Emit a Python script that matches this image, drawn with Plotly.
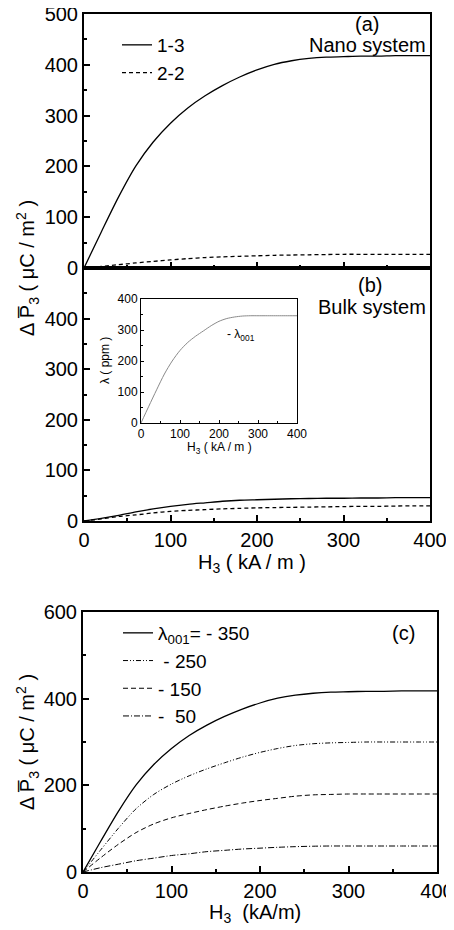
import plotly.graph_objects as go

# ---------------- data ----------------
H = [0, 20, 40, 60, 80, 100, 120, 140, 160, 180, 200, 220, 240, 260, 280, 300, 320, 340, 360, 380, 400]

# (a) nano system
nano_13 = [0, 71, 140, 201, 248, 285, 315, 339, 359, 376, 390, 401, 408, 412.5, 415, 416, 417, 417, 418, 418, 418]
nano_22 = [0, 3, 6.5, 10, 13, 16, 18.5, 20.5, 22, 23, 24, 25, 25.5, 26, 26.5, 27, 27, 27, 27, 27, 27]

# (b) bulk system
bulk_13 = [0, 5, 11, 18, 24, 29, 33, 36, 39, 41, 42, 43, 44, 44.5, 45, 45, 45.5, 45.5, 46, 46, 46]
bulk_22 = [0, 4, 9, 12, 16, 19, 21, 22.5, 24, 25, 26, 26.5, 27, 27.5, 28, 28.5, 29, 29, 29.5, 30, 30]

# inset: -lambda_001 (ppm)
lam001 = [0, 54, 107, 158, 200, 234, 260, 280, 297, 314, 328, 337, 342, 345, 346, 346, 346, 346, 346, 346, 346]

# (c) lambda_001 series
c_350 = [0, 71, 140, 201, 248, 285, 315, 339, 359, 376, 390, 401, 408, 412.5, 415, 416, 417, 417, 418, 418, 418]
c_250 = [0, 51, 101, 146, 179, 203, 222, 238, 252, 265, 276, 285, 292, 296, 298, 299, 300, 300, 300, 300, 300]
c_150 = [0, 33, 64, 91, 111, 125, 135, 144, 152, 159, 165, 170, 175, 178, 179, 180, 180, 180, 180, 180, 180]
c_50 = [0, 10, 18, 26, 32, 38, 42, 47, 50, 53, 55, 57, 58.5, 59.5, 60, 60, 60, 60, 60, 60, 60]

main_ticks = [0, 100, 200, 300, 400]
ab_yticks = [0, 100, 200, 300, 400, 500]
b_yticks = [0, 100, 200, 300, 400]
c_yticks = [0, 200, 400, 600]

# page is 454x930, the plot div sits 8px in from the page corner (body margin)
OFF = 8
W, Hgt = 454 - OFF, 930 - OFF
FONT = "Liberation Sans, Arial, sans-serif"


def px_x(p):
    return (p - OFF) / W


def px_y(p):
    return 1 - (p - OFF) / Hgt


fig = go.Figure()

LW = 1.3
SM = 0.8
# (a)
fig.add_trace(go.Scatter(x=H, y=nano_13, mode="lines", name="1-3",
                         line=dict(color="black", width=LW, shape="spline", smoothing=SM),
                         xaxis="x", yaxis="y", legend="legend"))
fig.add_trace(go.Scatter(x=H, y=nano_22, mode="lines", name="2-2",
                         line=dict(color="black", width=LW, dash="4px,3px", shape="spline", smoothing=SM),
                         xaxis="x", yaxis="y", legend="legend"))
# (b)
fig.add_trace(go.Scatter(x=H, y=bulk_13, mode="lines", showlegend=False,
                         line=dict(color="black", width=LW, shape="spline", smoothing=SM),
                         xaxis="x2", yaxis="y2"))
fig.add_trace(go.Scatter(x=H, y=bulk_22, mode="lines", showlegend=False,
                         line=dict(color="black", width=LW, dash="4px,3px", shape="spline", smoothing=SM),
                         xaxis="x2", yaxis="y2"))
# inset
fig.add_trace(go.Scatter(x=H, y=lam001, mode="lines", showlegend=False,
                         line=dict(color="#8a8a8a", width=1, shape="spline", smoothing=SM),
                         xaxis="x3", yaxis="y3"))
# (c)
fig.add_trace(go.Scatter(x=H, y=c_350, mode="lines", name="λ<sub>001</sub>= - 350",
                         line=dict(color="black", width=LW, shape="spline", smoothing=SM),
                         xaxis="x4", yaxis="y4", legend="legend2"))
fig.add_trace(go.Scatter(x=H, y=c_250, mode="lines", name="\u00a0- 250",
                         line=dict(color="black", width=1, dash="5px,2px,1px,2px,1px,2px", shape="spline", smoothing=SM),
                         xaxis="x4", yaxis="y4", legend="legend2"))
fig.add_trace(go.Scatter(x=H, y=c_150, mode="lines", name="- 150",
                         line=dict(color="black", width=1, dash="5px,3px", shape="spline", smoothing=SM),
                         xaxis="x4", yaxis="y4", legend="legend2"))
fig.add_trace(go.Scatter(x=H, y=c_50, mode="lines", name="-\u00a0\u00a050",
                         line=dict(color="black", width=1, dash="6px,2px,1px,2px", shape="spline", smoothing=SM),
                         xaxis="x4", yaxis="y4", legend="legend2"))

tickfont = dict(family=FONT, size=20, color="black")
small_font = dict(family=FONT, size=12, color="black")


def main_axis(**kw):
    d = dict(showline=True, linecolor="black", linewidth=2, mirror=True, ticks="inside", ticklen=6,
             tickwidth=1.5, tickcolor="black", showgrid=False, zeroline=False, tickfont=tickfont,
             automargin=False, ticklabeloverflow="allow",
             minor=dict(ticks="inside", ticklen=3, tickwidth=1.5, tickcolor="black", showgrid=False))
    d.update(kw)
    return d


def inset_axis(**kw):
    d = dict(showline=True, linecolor="black", linewidth=1, mirror=True, ticks="inside", ticklen=3,
             tickcolor="black", showgrid=False, zeroline=False, tickfont=small_font, automargin=False,
             ticklabeloverflow="allow",
             minor=dict(ticks="inside", ticklen=2, tickcolor="black", dtick=50))
    d.update(kw)
    return d


dom_ab_x = [px_x(84), px_x(430)]
fig.update_layout(
    width=W, height=Hgt, margin=dict(l=0, r=0, t=0, b=0, autoexpand=False),
    paper_bgcolor="white", plot_bgcolor="rgba(0,0,0,0)",
    font=dict(family=FONT, color="black"),
    xaxis=main_axis(domain=dom_ab_x, anchor="y", range=[0, 400], tickvals=main_ticks, showticklabels=False,
                    minor_dtick=50),
    yaxis=main_axis(domain=[px_y(268), px_y(14)], anchor="x", range=[0, 500], tickvals=ab_yticks,
                    minor_dtick=50),
    xaxis2=main_axis(domain=dom_ab_x, anchor="y2", range=[0, 400], tickvals=main_ticks, minor_dtick=50),
    yaxis2=main_axis(domain=[px_y(521), px_y(268)], anchor="x2", range=[0, 500], tickvals=b_yticks,
                     minor_dtick=50),
    xaxis3=inset_axis(domain=[px_x(141), px_x(297)], anchor="y3", range=[0, 400], tickvals=main_ticks),
    yaxis3=inset_axis(domain=[px_y(423), px_y(299)], anchor="x3", range=[0, 400], tickvals=main_ticks),
    xaxis4=main_axis(domain=[px_x(83), px_x(437)], anchor="y4", range=[0, 400], tickvals=main_ticks,
                     minor_dtick=50),
    yaxis4=main_axis(domain=[px_y(872), px_y(612)], anchor="x4", range=[0, 600], tickvals=c_yticks,
                     minor_dtick=100),
    legend=dict(x=px_x(117), y=px_y(26), xanchor="left", yanchor="top", bgcolor="rgba(0,0,0,0)",
                font=dict(family=FONT, size=19, color="black"), borderwidth=0, tracegroupgap=0),
    legend2=dict(x=px_x(118), y=px_y(614), xanchor="left", yanchor="top", bgcolor="rgba(0,0,0,0)",
                 font=dict(family=FONT, size=19, color="black"), borderwidth=0, tracegroupgap=0),
)

ytitle = "Δ P\u0305<sub>3</sub> ( μC / m<sup>2</sup> )"
ann = [
    dict(text="(a)", x=px_x(367), y=px_y(24), font=dict(size=20)),
    dict(text="Nano system", x=px_x(428), y=px_y(45), xanchor="right", font=dict(size=20)),
    dict(text="(b)", x=px_x(370), y=px_y(285), font=dict(size=20)),
    dict(text="Bulk system", x=px_x(428), y=px_y(307), xanchor="right", font=dict(size=20)),
    dict(text="(c)", x=px_x(403), y=px_y(633), font=dict(size=20)),
    dict(text=ytitle, x=px_x(27), y=px_y(268), textangle=-90, font=dict(size=20)),
    dict(text=ytitle, x=px_x(27), y=px_y(742), textangle=-90, font=dict(size=20)),
    dict(text="H<sub>3</sub> ( kA / m )", x=px_x(252), y=px_y(563), font=dict(size=20)),
    dict(text="H<sub>3</sub>\u00a0\u00a0(kA/m)", x=px_x(255), y=px_y(913), font=dict(size=20)),
    dict(text="H<sub>3</sub> ( kA / m )", x=px_x(219), y=px_y(448), font=dict(size=12)),
    dict(text="λ ( ppm )", x=px_x(105), y=px_y(361), textangle=-90, font=dict(size=12)),
]
for a in ann:
    a.setdefault("xanchor", "center")
    a.update(xref="paper", yref="paper", showarrow=False, yanchor="middle")
    a["font"] = dict(family=FONT, color="black", **a["font"])
    fig.add_annotation(**a)

fig.add_annotation(text="- λ<sub>001</sub>", x=215, y=285, xref="x3", yref="y3", xanchor="left",
                   yanchor="middle", showarrow=False, font=dict(family=FONT, size=12, color="black"))

fig.write_html("out.html")
